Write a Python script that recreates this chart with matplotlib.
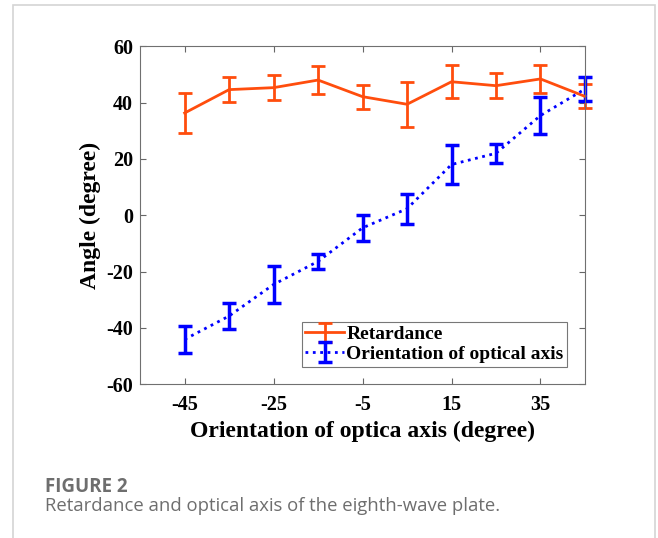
import matplotlib.pyplot as plt
from matplotlib.patches import Rectangle

x = [-45, -35, -25, -15, -5, 5, 15, 25, 35, 45]
retardance = [36.3, 44.6, 45.3, 48.0, 42.1, 39.4, 47.4, 46.0, 48.4, 42.2]
retardance_err = [7.2, 4.5, 4.5, 5.0, 4.3, 8.0, 5.8, 4.5, 5.0, 4.3]
orientation = [-44.1, -35.8, -24.6, -16.4, -4.5, 2.3, 18.0, 22.0, 35.4, 44.8]
orientation_err = [4.7, 4.6, 6.6, 2.7, 4.7, 5.3, 7.0, 3.3, 6.7, 4.4]

xticks = [-45, -25, -5, 15, 35]
yticks = [-60, -40, -20, 0, 20, 40, 60]

plt.rcParams['font.family'] = ['Liberation Serif', 'DejaVu Serif']
plt.rcParams['font.weight'] = 'bold'
plt.rcParams['axes.unicode_minus'] = False

fig = plt.figure(figsize=(6.58, 5.38), dpi=100)
ax = fig.add_axes([0.213, 0.286, 0.676, 0.628])

ax.errorbar(x, retardance, yerr=retardance_err, color='#ff4d0d', lw=2,
            capsize=5, capthick=2, elinewidth=2, label='Retardance', clip_on=False)
ax.errorbar(x, orientation, yerr=orientation_err, color='#0000ff', lw=2,
            ls=':', capsize=5, capthick=2.5, elinewidth=2.5,
            label='Orientation of optical axis', clip_on=False)

ax.set_xlim(-55, 45)
ax.set_ylim(-60, 60)
ax.set_xticks(xticks)
ax.set_yticks(yticks)
ax.tick_params(direction='in', top=True, right=True, labelsize=14.5, color='#666666',
               length=4)
ax.tick_params(axis='x', pad=8)
ax.tick_params(axis='y', pad=5)
for s in ax.spines.values():
    s.set_color('#707070')
    s.set_linewidth(0.8)

ax.set_xlabel('Orientation of optica axis (degree)', fontsize=17, fontweight='bold',
              labelpad=4)
ax.set_ylabel('Angle (degree)', fontsize=17, fontweight='bold', labelpad=4)

leg = ax.legend(loc='lower right', fontsize=14, frameon=True, fancybox=False,
                edgecolor='#555555', borderpad=0.2, handlelength=2.0,
                handletextpad=0.1, labelspacing=0.1, borderaxespad=0.9)
leg.get_frame().set_linewidth(0.8)

# page frame around the figure panel
fig.patches.append(Rectangle((13 / 658, -0.05), 642 / 658, 1.05 - 4.5 / 538,
                             transform=fig.transFigure, fill=False,
                             edgecolor='#d4d4d4', lw=1.2))

fig.text(45 / 658, 1 - 487 / 538, 'FIGURE 2', family='Open Sans', fontsize=13.5,
         fontweight='bold', color='#6e6e6e', va='center')
fig.text(45 / 658, 1 - 506 / 538, 'Retardance and optical axis of the eighth-wave plate.',
         family='Open Sans', fontsize=13.3, fontweight='normal', color='#6e6e6e', va='center')

fig.savefig('out.png', dpi=100)
